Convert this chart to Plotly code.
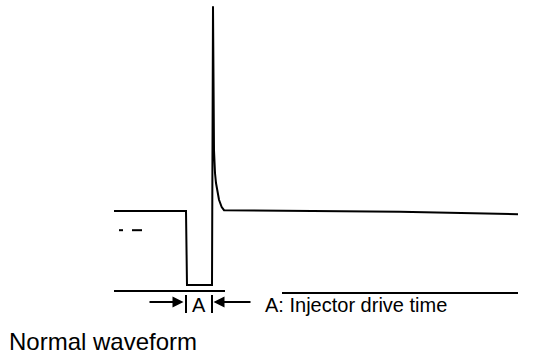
import plotly.graph_objects as go

# Injector waveform (time in ms, voltage in arbitrary volts)
wave_t = [-7.2, 0.0, 0.1, 2.6, 2.7, 2.73, 2.8, 2.9, 3.0, 3.3, 3.57, 3.8, 11.4, 21.4, 33.2]
wave_v = [10.0, 10.0, 0.75, 0.75, 35.6, 23.9, 17.6, 14.75, 13.5, 11.4, 10.5, 10.1, 10.0, 9.9, 9.6]

# Zero-volt reference line (two segments)
base_t = [-7.2, 3.9, None, 9.6, 33.2]
base_v = [0.0, 0.0, None, -0.25, -0.25]

# small stray marks left of the trace
mark_t = [-6.7, -6.3, None, -5.4, -4.4]
mark_v = [7.6, 7.6, None, 7.6, 7.6]

drive_start = 0.0
drive_end = 2.6
arrow_v = -1.375
bar_v = [-0.5, -2.75]

label_A = "A"
label_desc = "A: Injector drive time"
label_title = "Normal waveform"

fig = go.Figure()
fig.add_trace(go.Scatter(x=wave_t, y=wave_v, mode="lines",
                         line=dict(color="black", width=2), hoverinfo="skip"))
fig.add_trace(go.Scatter(x=base_t, y=base_v, mode="lines",
                         line=dict(color="black", width=2), hoverinfo="skip"))
fig.add_trace(go.Scatter(x=mark_t, y=mark_v, mode="lines",
                         line=dict(color="black", width=2), hoverinfo="skip"))
# bars marking drive time
fig.add_trace(go.Scatter(x=[drive_start, drive_start, None, drive_end, drive_end],
                         y=[bar_v[0], bar_v[1], None, bar_v[0], bar_v[1]],
                         mode="lines", line=dict(color="black", width=2), hoverinfo="skip"))

font = dict(family="Liberation Sans, Arial, sans-serif", size=20, color="black")
title_font = dict(family="Liberation Sans, Arial, sans-serif", size=24, color="black")

# arrows
fig.add_annotation(x=drive_start - 0.25, y=arrow_v, ax=drive_start - 3.8, ay=arrow_v,
                   xref="x", yref="y", axref="x", ayref="y", text="",
                   showarrow=True, arrowhead=2, arrowsize=1.1, arrowwidth=2, arrowcolor="black")
fig.add_annotation(x=drive_end + 0.15, y=arrow_v, ax=drive_end + 4.0, ay=arrow_v,
                   xref="x", yref="y", axref="x", ayref="y", text="",
                   showarrow=True, arrowhead=2, arrowsize=1.1, arrowwidth=2, arrowcolor="black")
fig.add_annotation(x=(drive_start + drive_end) / 2, y=-1.75, text=label_A, showarrow=False,
                   xref="x", yref="y", font=font, xanchor="center", yanchor="middle")
fig.add_annotation(x=7.7, y=-1.75, text=label_desc, showarrow=False,
                   xref="x", yref="y", font=font, xanchor="left", yanchor="middle")
fig.add_annotation(x=-17.9, y=-6.3, text=label_title, showarrow=False,
                   xref="x", yref="y", font=title_font, xanchor="left", yanchor="middle")

fig.update_layout(
    width=544, height=358,
    margin=dict(l=0, r=0, t=0, b=0),
    paper_bgcolor="white", plot_bgcolor="white",
    showlegend=False,
    xaxis=dict(range=[-18.6, 35.8], visible=False, fixedrange=True),
    yaxis=dict(range=[-8.375, 36.375], visible=False, fixedrange=True),
)

fig.write_html("out.html", config={"displayModeBar": False},
               post_script="document.body.style.margin='0';document.body.style.overflow='hidden';")
